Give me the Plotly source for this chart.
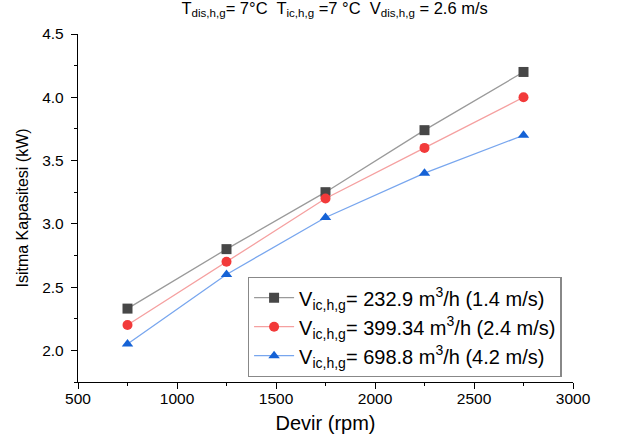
import plotly.graph_objects as go

# Compressor speed (rpm) and heating capacity (kW) for three indoor air flows
devir = [750, 1250, 1750, 2250, 2750]
kap_232 = [2.33, 2.80, 3.25, 3.74, 4.20]
kap_399 = [2.20, 2.70, 3.20, 3.60, 4.00]
kap_698 = [2.05, 2.60, 3.05, 3.40, 3.70]

series = [
    ("V<sub>ic,h,g</sub>= 232.9 m<sup>3</sup>/h (1.4 m/s)", kap_232, "square", "#474747", "#9a9a9a"),
    ("V<sub>ic,h,g</sub>= 399.34 m<sup>3</sup>/h (2.4 m/s)", kap_399, "circle", "#f23a3a", "#f5a0a0"),
    ("V<sub>ic,h,g</sub>= 698.8 m<sup>3</sup>/h (4.2 m/s)", kap_698, "triangle-up", "#1562d6", "#78a6ee"),
]

fig = go.Figure()
for name, vals, sym, mcol, lcol in series:
    fig.add_trace(go.Scatter(
        x=devir, y=vals, name=name, mode="lines+markers",
        line=dict(color=lcol, width=1.3),
        marker=dict(symbol=sym, size=10, color=mcol, line=dict(width=0)),
    ))

axis_common = dict(
    showline=True, linecolor="black", linewidth=1.3,
    ticks="outside", ticklen=6, tickwidth=1.3, tickcolor="black",
    showgrid=False, zeroline=False, mirror=False,
    tickfont=dict(family="Liberation Sans, Arial", size=15.5, color="black"),
    minor=dict(ticks="outside", ticklen=3, tickwidth=1.3, tickcolor="black", showgrid=False),
)

fig.update_layout(
    width=622, height=446,
    margin=dict(l=78, r=49, t=34, b=64),
    paper_bgcolor="white", plot_bgcolor="white",
    font=dict(family="Liberation Sans, Arial", color="black"),
    title=dict(
        text="T<sub>dis,h,g</sub>= 7°C  T<sub>ic,h,g</sub> =7 °C  V<sub>dis,h,g</sub> = 2.6 m/s",
        x=0.538, xanchor="center", y=0.995, yanchor="top",
        font=dict(size=16.5, color="black"),
    ),
    xaxis=dict(
        range=[500, 3000], tickvals=[500, 1000, 1500, 2000, 2500, 3000],
        ticklabelstandoff=-4,
        title=dict(text="Devir (rpm)", font=dict(size=20), standoff=10),
        **axis_common,
    ),
    yaxis=dict(
        range=[1.75, 4.5], tickvals=[2.0, 2.5, 3.0, 3.5, 4.0, 4.5],
        tickformat=".1f", ticklabelstandoff=4,
        title=dict(text="Isitma Kapasitesi (kW)", font=dict(size=16), standoff=9),
        **axis_common,
    ),
    legend=dict(
        x=0.343, y=0.302, xanchor="left", yanchor="top",
        bgcolor="white", bordercolor="#888888", borderwidth=1.3,
        font=dict(size=20, color="black"),
        itemwidth=40, tracegroupgap=0,
    ),
    showlegend=True,
)
fig.update_xaxes(minor=dict(tickvals=[750, 1250, 1750, 2250, 2750]))
fig.update_yaxes(minor=dict(tickvals=[1.75, 2.25, 2.75, 3.25, 3.75, 4.25]))

fig.write_html("out.html")
